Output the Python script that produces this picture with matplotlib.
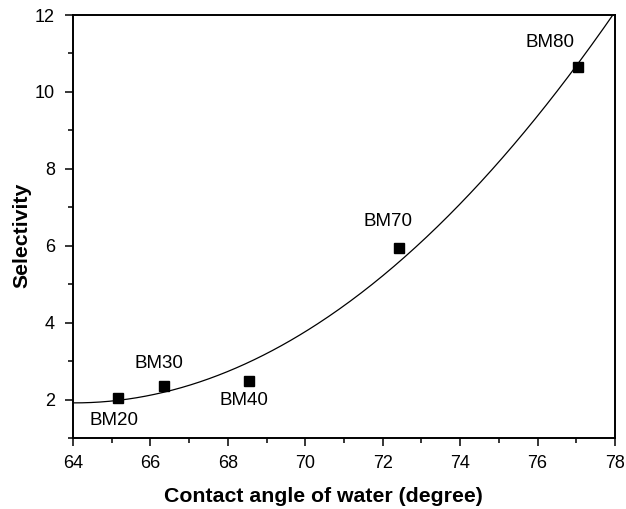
import numpy as np
import matplotlib
matplotlib.use("Agg")
import matplotlib.pyplot as plt
from matplotlib.ticker import MultipleLocator

plt.rcParams['font.family'] = ['Liberation Sans', 'DejaVu Sans']

samples = ["BM20", "BM30", "BM40", "BM70", "BM80"]
contact_angle = [65.15, 66.34, 68.55, 72.43, 77.05]
selectivity = [2.04, 2.35, 2.49, 5.94, 10.65]

# label offsets in pixels (dx, dy) relative to each point
label_offsets = [(-4, -22), (-5, 23), (-5, -20), (-11, 27), (-28, 24)]

fig = plt.figure(figsize=(6.26, 5.09), dpi=100)
ax = fig.add_axes([0.1166, 0.1395, 0.8658, 0.831])

# second-order polynomial fit through the measured points
coef = np.polyfit(contact_angle, selectivity, 2)
xs = np.linspace(64, 78, 300)
ax.plot(xs, np.polyval(coef, xs), color='black', lw=0.9)

ax.plot(contact_angle, selectivity, 's', color='black', ms=6.5, ls='none')

for name, x, y, (dx, dy) in zip(samples, contact_angle, selectivity, label_offsets):
    ax.annotate(name, (x, y), xytext=(dx, dy), textcoords='offset pixels',
                ha='center', va='center', fontsize=13.5)

ax.set_xlim(64, 78)
ax.set_ylim(1, 12)
ax.xaxis.set_major_locator(MultipleLocator(2))
ax.xaxis.set_minor_locator(MultipleLocator(1))
ax.yaxis.set_major_locator(MultipleLocator(2))
ax.yaxis.set_minor_locator(MultipleLocator(1))
ax.tick_params(which='both', direction='out', top=False, right=False,
               labelsize=13, width=1.1)
ax.tick_params(which='major', length=6)
ax.tick_params(axis='x', which='major', pad=6)
ax.tick_params(axis='y', which='major', pad=7)
ax.tick_params(which='minor', length=3.5)
for s in ax.spines.values():
    s.set_linewidth(1.4)

ax.set_xlabel("Contact angle of water (degree)", fontsize=15.3, fontweight='bold',
              va='center', ha='center')
ax.set_ylabel("Selectivity", fontsize=15.3, fontweight='bold',
              va='center', ha='center')
ax.xaxis.set_label_coords(0.462, -0.139)
ax.yaxis.set_label_coords(-0.095, 0.479)

fig.savefig("out.png", dpi=100)
